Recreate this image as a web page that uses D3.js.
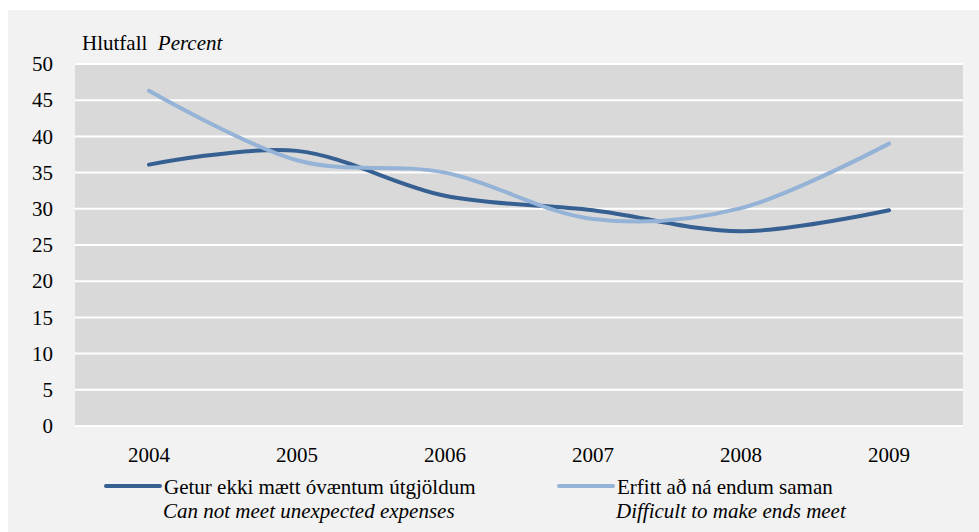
<!DOCTYPE html>
<html>
<head>
<meta charset="utf-8">
<script src="https://cdn.jsdelivr.net/npm/d3@7"></script>
<style>
  body { margin: 0; background: #fff; }
  svg text { font-family: "Liberation Serif", "Times New Roman", serif; fill: #000; }
</style>
</head>
<body>
<script>
var width = 979,
    height = 532;

// data
var years = ["2004", "2005", "2006", "2007", "2008", "2009"];
var cannotMeet = [36.1, 38.0, 31.8, 29.8, 26.9, 29.8];
var endsMeet = [46.3, 36.7, 35.0, 28.6, 30.1, 39.0];
var yTicks = [0, 5, 10, 15, 20, 25, 30, 35, 40, 45, 50];

var margin = {left: 75, right: 979 - 963, top: 64, bottom: 532 - 426};
var fs = 21;

var svg = d3.select("body").append("svg")
    .attr("width", width)
    .attr("height", height)
    .attr("font-family", "Liberation Serif");

// panel background
svg.append("rect")
    .attr("x", 8).attr("y", 10)
    .attr("width", width - 8).attr("height", height - 10)
    .attr("fill", "#f2f2f2");

var x = d3.scaleBand()
    .domain(years)
    .range([margin.left, width - margin.right]);

var y = d3.scaleLinear()
    .domain([0, 50])
    .range([height - margin.bottom, margin.top]);

// plot area
svg.append("rect")
    .attr("x", x.range()[0])
    .attr("y", y(50))
    .attr("width", x.range()[1] - x.range()[0])
    .attr("height", y(0) - y(50))
    .attr("fill", "#d9d9d9");

// gridlines
svg.append("g")
    .selectAll("line")
    .data(yTicks)
    .join("line")
    .attr("x1", x.range()[0])
    .attr("x2", x.range()[1])
    .attr("y1", function(d) { return y(d); })
    .attr("y2", function(d) { return y(d); })
    .attr("stroke", "#fff")
    .attr("stroke-width", 2);

// y axis labels
svg.append("g")
    .selectAll("text")
    .data(yTicks)
    .join("text")
    .attr("x", 53)
    .attr("y", function(d) { return y(d); })
    .attr("dy", "0.34em")
    .attr("text-anchor", "end")
    .attr("font-size", fs)
    .text(function(d) { return d; });

// x axis labels
svg.append("g")
    .selectAll("text")
    .data(years)
    .join("text")
    .attr("x", function(d) { return x(d) + x.bandwidth() / 2; })
    .attr("y", 462)
    .attr("text-anchor", "middle")
    .attr("font-size", fs)
    .text(function(d) { return d; });

// axis title
var title = svg.append("text")
    .attr("x", 82)
    .attr("y", 50)
    .attr("font-size", fs);
title.append("tspan").text("Hlutfall\u00a0 ");
title.append("tspan").attr("font-style", "italic").text("Percent");

var line = d3.line()
    .x(function(d, i) { return x(years[i]) + x.bandwidth() / 2; })
    .y(function(d) { return y(d); })
    .curve(d3.curveCardinal.tension(0));

var series = [
  {values: cannotMeet, color: "#376092",
   label: "Getur ekki mætt óvæntum útgjöldum", label2: "Can not meet unexpected expenses", lx: 106},
  {values: endsMeet, color: "#95b3d7",
   label: "Erfitt að ná endum saman", label2: "Difficult to make ends meet", lx: 559}
];

series.forEach(function(s) {
  svg.append("path")
      .datum(s.values)
      .attr("fill", "none")
      .attr("stroke", s.color)
      .attr("stroke-width", 4)
      .attr("stroke-linecap", "round")
      .attr("d", line);
});

// legend
series.forEach(function(s) {
  var g = svg.append("g");
  g.append("line")
      .attr("x1", s.lx).attr("x2", s.lx + 54)
      .attr("y1", 486).attr("y2", 486)
      .attr("stroke", s.color)
      .attr("stroke-width", 4)
      .attr("stroke-linecap", "round");
  g.append("text")
      .attr("x", s.lx + 58)
      .attr("y", 494)
      .attr("font-size", fs)
      .text(s.label);
  g.append("text")
      .attr("x", s.lx + 57)
      .attr("y", 518)
      .attr("font-size", fs)
      .attr("font-style", "italic")
      .text(s.label2);
});
</script>
</body>
</html>
